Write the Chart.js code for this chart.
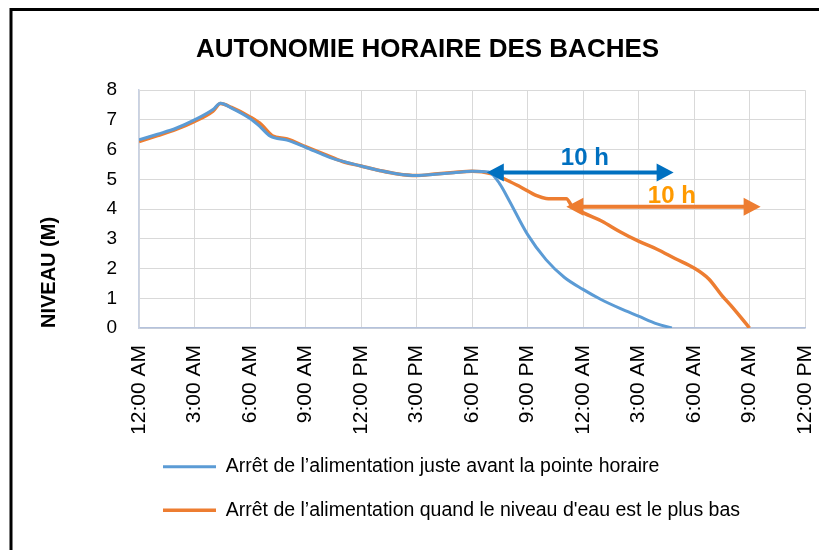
<!DOCTYPE html>
<html>
<head>
<meta charset="utf-8">
<script src="https://cdn.jsdelivr.net/npm/chart.js@4.4.1/dist/chart.umd.min.js"></script>
<style>
  html, body { margin: 0; padding: 0; background: #fff; }
  #wrap { width: 819px; height: 550px; position: relative; }
</style>
</head>
<body>
<div id="wrap"><canvas id="chart" width="819" height="550"></canvas></div>
<script>
// hours since midnight of day 1
const tickLabels = ["12:00 AM", "3:00 AM", "6:00 AM", "9:00 AM", "12:00 PM", "3:00 PM", "6:00 PM",
    "9:00 PM", "12:00 AM", "3:00 AM", "6:00 AM", "9:00 AM", "12:00 PM"];

const seriesNames = [
    "Arrêt de l’alimentation juste avant la pointe horaire",
    "Arrêt de l’alimentation quand le niveau d'eau est le plus bas"
];

const blueHours = [0, 1, 2, 3, 4, 4.4, 5, 6, 6.5, 7.1, 8, 9, 10, 10.5, 12, 13, 14, 15, 16, 17, 18, 18.9,
    19.5, 20, 21, 22, 23, 24, 25, 26, 27, 28, 28.8];
const blueLevel = [6.33, 6.52, 6.72, 7.0, 7.35, 7.56, 7.4, 7.05, 6.8, 6.45, 6.32, 6.08, 5.82, 5.7, 5.45, 5.3,
    5.18, 5.13, 5.17, 5.22, 5.27, 5.25, 4.85, 4.3, 3.15, 2.3, 1.7, 1.3, 0.95, 0.66, 0.4, 0.14, 0];

const orangeHours = [0, 1, 2, 3, 4, 4.4, 5, 6, 6.6, 7.2, 8, 9, 10, 11, 12, 13, 14, 15, 16, 17, 18, 19,
    19.7, 20.6, 21.5, 22, 22.7, 23.1, 23.4, 24, 25, 26, 27, 28, 29, 30, 30.8, 31.5, 32, 32.5, 33];
const orangeLevel = [6.27, 6.47, 6.68, 6.95, 7.3, 7.55, 7.42, 7.1, 6.85, 6.47, 6.36, 6.1, 5.85, 5.6, 5.45,
    5.3, 5.18, 5.13, 5.18, 5.23, 5.27, 5.2, 5.03, 4.75, 4.45, 4.36, 4.35, 4.35, 4.1, 3.88, 3.6, 3.24, 2.92,
    2.65, 2.33, 2.02, 1.65, 1.1, 0.75, 0.38, 0];

// double arrows "10 h"
const arrowFrom = [18.8, 23.1];
const arrowTo = [28.9, 33.6];
const arrowLevel = [5.23, 4.08];
const arrowText = ["10 h", "10 h"];
const arrowTextHour = [24.1, 28.8];
const arrowTextLevel = [5.72, 4.44];
const arrowColors = ["#0070C0", "#ED7D31"];
const arrowTextColors = ["#0070C0", "#FF9A00"];

function toPoints(xs, ys) {
    return xs.map((x, i) => ({ x: x, y: ys[i] }));
}

const frame = {
    id: "frame",
    beforeDraw(chart) {
        const c = chart.ctx;
        c.save();
        c.fillStyle = "#fff";
        c.fillRect(0, 0, chart.width, chart.height);
        c.strokeStyle = "#000";
        c.lineWidth = 3;
        c.strokeRect(11, 9.5, 1000, 1000);
        c.restore();
    }
};

const arrows = {
    id: "arrows",
    afterDatasetsDraw(chart) {
        const c = chart.ctx;
        const xs = chart.scales.x;
        const ys = chart.scales.y;
        for (let i = 0; i < arrowFrom.length; i++) {
            const x1 = xs.getPixelForValue(arrowFrom[i]);
            const x2 = xs.getPixelForValue(arrowTo[i]);
            const y = ys.getPixelForValue(arrowLevel[i]);
            const head = 17, half = 9;
            c.save();
            c.strokeStyle = arrowColors[i];
            c.fillStyle = arrowColors[i];
            c.lineWidth = 4;
            c.beginPath();
            c.moveTo(x1 + head - 2, y);
            c.lineTo(x2 - head + 2, y);
            c.stroke();
            c.beginPath();
            c.moveTo(x1, y);
            c.lineTo(x1 + head, y - half);
            c.lineTo(x1 + head, y + half);
            c.closePath();
            c.fill();
            c.beginPath();
            c.moveTo(x2, y);
            c.lineTo(x2 - head, y - half);
            c.lineTo(x2 - head, y + half);
            c.closePath();
            c.fill();
            c.font = "bold 24px 'Liberation Sans', Arial, sans-serif";
            c.fillStyle = arrowTextColors[i];
            c.textAlign = "center";
            c.textBaseline = "middle";
            c.fillText(arrowText[i], xs.getPixelForValue(arrowTextHour[i]), ys.getPixelForValue(arrowTextLevel[i]));
            c.restore();
        }
    }
};

const ctx = document.getElementById("chart").getContext("2d");

new Chart(ctx, {
    type: "line",
    data: {
        datasets: [
            {
                label: seriesNames[0],
                data: toPoints(blueHours, blueLevel),
                borderColor: "#5B9BD5",
                backgroundColor: "#5B9BD5",
                borderWidth: 3,
                pointRadius: 0,
                cubicInterpolationMode: "monotone"
            },
            {
                label: seriesNames[1],
                data: toPoints(orangeHours, orangeLevel),
                borderColor: "#ED7D31",
                backgroundColor: "#ED7D31",
                borderWidth: 3.5,
                pointRadius: 0,
                cubicInterpolationMode: "monotone"
            }
        ]
    },
    options: {
        responsive: false,
        animation: false,
        layout: { padding: { top: 20, left: 36, right: 0, bottom: 20 } },
        scales: {
            x: {
                type: "linear",
                min: 0,
                max: 36,
                grid: { color: "#D9D9D9", drawTicks: false },
                border: { color: "#B4C2DC", width: 1.5 },
                ticks: {
                    stepSize: 3,
                    autoSkip: false,
                    minRotation: 90,
                    maxRotation: 90,
                    padding: 17,
                    color: "#000",
                    font: { family: "'Liberation Sans', Arial, sans-serif", size: 21 },
                    callback: (v) => tickLabels[Math.round(v / 3)]
                },
                afterFit: (s) => { s.paddingRight = 14; s.height = 105; }
            },
            y: {
                min: 0,
                max: 8,
                grid: { color: "#D9D9D9", drawTicks: false },
                border: { color: "#C9D2E3", width: 1.5 },
                ticks: {
                    stepSize: 1,
                    padding: 22,
                    color: "#000",
                    font: { family: "'Liberation Sans', Arial, sans-serif", size: 19 }
                },
                title: {
                    display: true,
                    text: "NIVEAU (M)",
                    align: "start",
                    color: "#000",
                    padding: { top: 1, bottom: 10 },
                    font: { family: "'Liberation Sans', Arial, sans-serif", size: 20, weight: "bold" }
                },
                afterFit: (s) => { s.width = 103; }
            }
        },
        plugins: {
            title: {
                display: true,
                text: "AUTONOMIE HORAIRE DES BACHES",
                color: "#000",
                padding: { top: 14, bottom: 25 },
                font: { family: "'Liberation Sans', Arial, sans-serif", size: 26, weight: "bold" }
            },
            legend: {
                position: "bottom",
                align: "start",
                fullSize: false,
                labels: {
                    usePointStyle: true,
                    pointStyle: "line",
                    pointStyleWidth: 53,
                    padding: 24,
                    color: "#000",
                    font: { family: "'Liberation Sans', Arial, sans-serif", size: 19.5 }
                }
            },
            tooltip: { enabled: false }
        }
    },
    plugins: [frame, arrows]
});
</script>
</body>
</html>
